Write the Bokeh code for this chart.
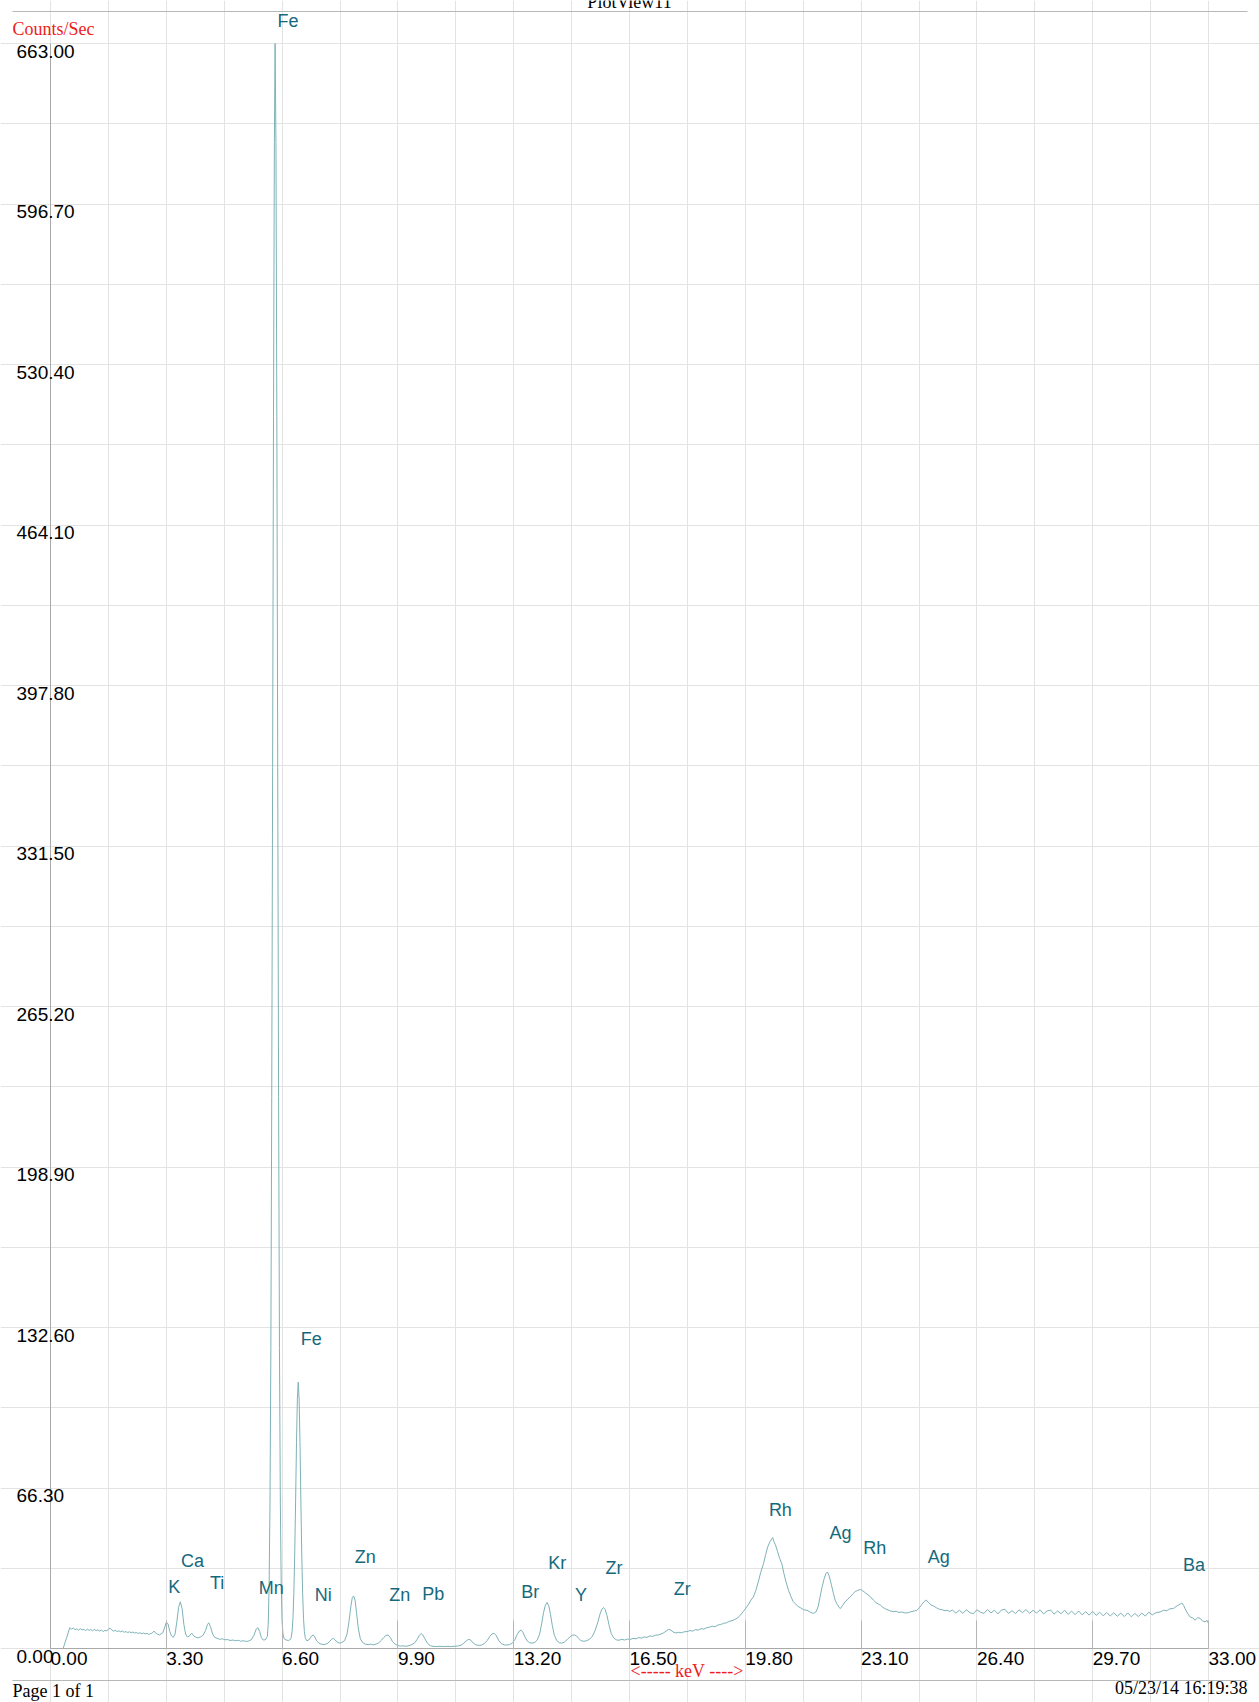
from bokeh.plotting import figure
from bokeh.models import (ColumnDataSource, LabelSet, Label, Arrow, FixedTicker,
                          PrintfTickFormatter, Range1d)
from bokeh.core.properties import value
from bokeh.embed import file_html
from bokeh.resources import INLINE

# ---------------- data ----------------
spectrum_kev = [
    0.00, 0.36, 0.46, 0.55, 0.60, 0.65, 0.70, 0.75, 0.80, 0.85,
    0.90, 0.95, 1.00, 1.05, 1.10, 1.15, 1.20, 1.25, 1.30, 1.35,
    1.40, 1.45, 1.50, 1.55, 1.60, 1.65, 1.70, 1.75, 1.80, 1.85,
    1.90, 1.95, 2.00, 2.05, 2.10, 2.15, 2.20, 2.25, 2.30, 2.35,
    2.40, 2.45, 2.50, 2.55, 2.60, 2.65, 2.70, 2.75, 2.80, 2.85,
    2.90, 2.95, 3.00, 3.05, 3.10, 3.15, 3.20, 3.25, 3.30, 3.35,
    3.40, 3.45, 3.50, 3.55, 3.60, 3.65, 3.70, 3.75, 3.80, 3.85,
    3.90, 3.95, 4.00, 4.03, 4.08, 4.15, 4.20, 4.28, 4.35, 4.42,
    4.47, 4.51, 4.56, 4.62, 4.68, 4.75, 4.82, 4.90, 4.97, 5.05,
    5.12, 5.20, 5.28, 5.35, 5.42, 5.50, 5.58, 5.65, 5.72, 5.80,
    5.86, 5.91, 5.96, 6.01, 6.06, 6.12, 6.18, 6.205, 6.23, 6.255,
    6.28, 6.305, 6.33, 6.355, 6.38, 6.40, 6.425, 6.45, 6.475, 6.50,
    6.525, 6.55, 6.575, 6.60, 6.625, 6.66, 6.72, 6.78, 6.84, 6.86,
    6.885, 6.91, 6.935, 6.96, 6.985, 7.01, 7.035, 7.06, 7.085, 7.11,
    7.135, 7.16, 7.185, 7.21, 7.235, 7.26, 7.30, 7.36, 7.41, 7.45,
    7.49, 7.53, 7.58, 7.65, 7.72, 7.80, 7.88, 7.95, 8.01, 8.06,
    8.11, 8.17, 8.24, 8.30, 8.38, 8.45, 8.51, 8.56, 8.60, 8.64,
    8.68, 8.72, 8.77, 8.83, 8.90, 8.97, 9.05, 9.12, 9.20, 9.28,
    9.36, 9.43, 9.50, 9.56, 9.62, 9.68, 9.74, 9.82, 9.90, 9.98,
    10.06, 10.14, 10.22, 10.30, 10.38, 10.45, 10.51, 10.56, 10.61, 10.67,
    10.74, 10.82, 10.90, 11.00, 11.10, 11.20, 11.30, 11.40, 11.50, 11.60,
    11.70, 11.78, 11.85, 11.92, 11.98, 12.05, 12.12, 12.20, 12.28, 12.36,
    12.44, 12.52, 12.58, 12.64, 12.70, 12.77, 12.85, 12.93, 13.00, 13.08,
    13.16, 13.24, 13.30, 13.36, 13.41, 13.46, 13.52, 13.58, 13.65, 13.72,
    13.80, 13.87, 13.94, 14.00, 14.05, 14.10, 14.15, 14.20, 14.25, 14.30,
    14.36, 14.43, 14.50, 14.57, 14.64, 14.72, 14.80, 14.87, 14.93, 14.99,
    15.05, 15.12, 15.20, 15.28, 15.36, 15.44, 15.52, 15.60, 15.66, 15.71,
    15.76, 15.81, 15.86, 15.92, 15.98, 16.05, 16.12, 16.20, 16.28, 16.36,
    16.44, 16.52, 16.60, 16.68, 16.76, 16.84, 16.92, 17.00, 17.08, 17.16,
    17.24, 17.32, 17.40, 17.48, 17.55, 17.62, 17.68, 17.75, 17.82, 17.90,
    17.98, 18.06, 18.14, 18.22, 18.30, 18.38, 18.46, 18.54, 18.62, 18.70,
    18.78, 18.86, 18.94, 19.02, 19.10, 19.18, 19.26, 19.34, 19.42, 19.50,
    19.58, 19.66, 19.74, 19.82, 19.90, 19.96, 20.03, 20.10, 20.17, 20.24,
    20.32, 20.38, 20.44, 20.50, 20.55, 20.58, 20.62, 20.66, 20.72, 20.78,
    20.84, 20.90, 20.96, 21.03, 21.10, 21.16, 21.22, 21.30, 21.38, 21.46,
    21.56, 21.65, 21.74, 21.82, 21.88, 21.93, 21.99, 22.05, 22.10, 22.14,
    22.19, 22.25, 22.31, 22.36, 22.42, 22.47, 22.51, 22.57, 22.64, 22.72,
    22.79, 22.86, 22.93, 23.00, 23.08, 23.15, 23.22, 23.30, 23.37, 23.45,
    23.52, 23.60, 23.65, 23.72, 23.80, 23.87, 23.94, 24.02, 24.10, 24.18,
    24.26, 24.34, 24.41, 24.48, 24.55, 24.62, 24.69, 24.76, 24.83, 24.90,
    24.96, 25.02, 25.09, 25.17, 25.25, 25.33, 25.41, 25.49, 25.55, 25.63,
    25.7, 25.8, 25.9, 26.0, 26.1, 26.2, 26.3, 26.4, 26.5, 26.6,
    26.7, 26.8, 26.9, 27.0, 27.1, 27.2, 27.3, 27.4, 27.5, 27.6,
    27.7, 27.8, 27.9, 28.0, 28.1, 28.2, 28.3, 28.4, 28.5, 28.6,
    28.7, 28.8, 28.9, 29.0, 29.1, 29.2, 29.3, 29.4, 29.5, 29.6,
    29.7, 29.8, 29.9, 30.0, 30.1, 30.2, 30.3, 30.4, 30.5, 30.6,
    30.7, 30.8, 30.9, 31.0, 31.1, 31.2, 31.3, 31.4, 31.5, 31.62,
    31.72, 31.81, 31.90, 32.00, 32.07, 32.14, 32.20, 32.24, 32.29, 32.33,
    32.40, 32.47, 32.55, 32.62, 32.69, 32.76, 32.83, 32.90, 32.96, 33.00,
]

spectrum_cps = [
    0.0, 0.0, 4.5, 8.6, 8.0, 8.4, 7.8, 8.1, 7.6, 8.2,
    7.7, 7.9, 7.4, 8.0, 7.5, 7.8, 7.3, 7.9, 7.4, 7.7,
    7.2, 7.6, 7.0, 7.5, 7.3, 7.9, 8.4, 7.6, 7.2, 7.5,
    7.0, 7.3, 6.9, 7.2, 6.7, 7.0, 6.6, 6.9, 6.5, 6.8,
    6.4, 6.6, 6.2, 6.5, 6.1, 6.4, 6.0, 6.3, 5.8, 6.1,
    6.4, 7.2, 6.3, 5.9, 5.6, 6.0, 6.5, 8.5, 10.8, 10.2,
    7.0, 5.2, 4.6, 6.0, 11.0, 17.0, 19.3, 16.5, 10.0, 6.0,
    4.8, 5.0, 6.0, 6.3, 5.2, 4.6, 4.4, 4.8, 5.5, 7.5,
    9.8, 10.6, 9.0, 6.0, 4.6, 4.2, 3.8, 4.0, 3.6, 3.7,
    3.3, 3.5, 3.2, 3.4, 3.0, 3.2, 2.9, 3.1, 3.6, 5.5,
    8.0, 8.6, 7.0, 4.5, 3.5, 3.6, 5.0, 10.0, 26.0, 60.0,
    124.0, 228.0, 364.0, 509.0, 622.0, 663.0, 622.0, 509.0, 364.0, 228.0,
    124.0, 60.0, 26.0, 11.0, 6.0, 4.0, 3.5, 3.3, 3.8, 4.5,
    7.0, 12.5, 23.0, 39.0, 61.0, 85.0, 103.0, 110.0, 103.0, 85.0,
    61.0, 39.0, 23.0, 12.5, 7.0, 4.5, 3.2, 3.5, 4.5, 5.3,
    5.6, 4.8, 3.2, 2.2, 1.8, 1.6, 2.0, 2.8, 3.8, 4.2,
    3.6, 2.6, 2.2, 2.5, 3.2, 6.0, 11.5, 17.5, 21.0, 21.7,
    20.0, 15.0, 8.5, 4.0, 2.4, 1.8, 1.6, 1.8, 1.5, 1.8,
    2.4, 3.4, 4.6, 5.4, 5.6, 4.6, 3.0, 1.8, 1.2, 1.0,
    1.1, 0.9, 1.2, 1.6, 2.4, 3.8, 5.4, 6.2, 5.6, 4.0,
    2.2, 1.2, 0.9, 0.8, 0.9, 0.8, 0.9, 0.8, 0.9, 1.0,
    1.4, 2.2, 3.2, 3.8, 3.4, 2.2, 1.5, 1.3, 1.4, 2.0,
    3.2, 5.0, 6.0, 6.3, 5.4, 3.4, 2.0, 1.5, 1.4, 1.6,
    2.2, 3.8, 5.8, 7.2, 7.6, 6.8, 4.8, 3.2, 2.4, 2.2,
    2.5, 3.5, 6.0, 10.5, 14.8, 17.8, 19.0, 17.6, 14.0, 9.5,
    5.4, 3.2, 2.4, 2.2, 2.6, 3.6, 4.8, 5.5, 5.6, 5.2,
    4.2, 3.2, 3.0, 3.2, 3.8, 5.0, 7.4, 11.0, 14.2, 16.2,
    16.9, 16.0, 13.5, 9.5, 6.2, 4.4, 3.6, 3.4, 3.8, 3.5,
    3.9, 3.7, 4.2, 4.0, 4.5, 4.3, 4.8, 4.6, 5.2, 5.0,
    5.5, 5.6, 6.0, 6.5, 7.3, 7.9, 7.6, 6.8, 6.4, 6.7,
    6.5, 6.9, 7.0, 7.4, 7.2, 7.8, 7.6, 8.2, 8.0, 8.6,
    8.8, 9.2, 9.0, 9.7, 9.9, 10.4, 10.6, 11.2, 11.5, 12.0,
    12.6, 13.8, 15.2, 16.8, 18.4, 20.0, 21.3, 24.0, 27.5, 31.5,
    35.1, 38.8, 42.0, 44.0, 45.2, 45.8, 44.0, 42.8, 40.0, 37.2,
    35.1, 31.0, 27.5, 24.1, 21.5, 19.5, 18.6, 17.4, 16.8, 16.0,
    15.8, 15.0, 14.5, 15.2, 17.5, 21.3, 25.5, 29.0, 31.0, 31.6,
    30.0, 26.5, 22.8, 20.0, 18.2, 17.0, 16.5, 17.8, 19.2, 20.4,
    21.3, 22.5, 23.5, 24.0, 24.4, 23.8, 23.0, 22.2, 21.3, 20.0,
    19.0, 18.3, 17.9, 17.0, 16.3, 15.9, 15.5, 15.2, 15.4, 14.9,
    15.1, 14.7, 14.7, 15.0, 15.3, 15.5, 15.8, 16.8, 18.2, 19.4,
    20.0, 19.0, 18.0, 17.5, 16.8, 16.2, 16.0, 15.6, 15.8, 15.3,
    15.9, 14.6, 15.8, 14.5, 16.0, 14.8, 14.4, 16.0, 15.0, 14.5,
    16.1, 14.7, 15.8, 14.3, 15.9, 16.2, 14.5, 15.6, 14.4, 16.0,
    14.8, 16.1, 14.5, 15.8, 14.6, 16.0, 14.3, 15.5, 15.9, 14.2,
    15.5, 14.4, 15.8, 14.1, 15.4, 14.0, 15.5, 13.9, 15.2, 13.8,
    15.3, 13.7, 15.0, 13.5, 14.9, 13.4, 14.8, 13.3, 14.6, 13.2,
    14.7, 13.1, 14.5, 13.2, 14.6, 13.4, 15.0, 13.9, 14.8, 15.1,
    15.8, 15.6, 16.4, 16.5, 17.3, 17.9, 18.4, 18.8, 17.8, 16.5,
    14.6, 13.1, 12.6, 11.7, 12.8, 12.4, 11.4, 11.0, 11.6, 10.3,
]
assert len(spectrum_kev) == len(spectrum_cps)

x_ticks = [0.0, 3.3, 6.6, 9.9, 13.2, 16.5, 19.8, 23.1, 26.4, 29.7, 33.0]
x_minor_ticks = [1.65, 4.95, 8.25, 11.55, 14.85, 18.15, 21.45, 24.75, 28.05, 31.35]
y_ticks = [0.0, 66.3, 132.6, 198.9, 265.2, 331.5, 397.8, 464.1, 530.4, 596.7, 663.0]
y_tick_labels = ["0.00", "66.30", "132.60", "198.90", "265.20", "331.50",
                 "397.80", "464.10", "530.40", "596.70", "663.00"]
y_minor_ticks = [33.15, 99.45, 165.75, 232.05, 298.35, 364.65, 430.95, 497.25, 563.55, 629.85]

peak_label_text = ["Fe", "Fe", "K", "Ca", "Ti", "Mn", "Ni", "Zn", "Zn", "Pb",
                   "Br", "Kr", "Y", "Zr", "Zr", "Rh", "Ag", "Rh", "Ag", "Ba"]
peak_label_kev = [6.77, 7.43, 3.53, 4.05, 4.75, 6.29, 7.77, 8.97, 9.95, 10.91,
                  13.67, 14.44, 15.12, 16.06, 18.00, 20.80, 22.51, 23.49, 25.31, 32.59]
peak_label_cps = [672.5, 127.8, 25.3, 36.1, 27.0, 24.9, 22.0, 37.7, 22.0, 22.4,
                  23.5, 35.2, 22.0, 33.2, 24.5, 57.1, 47.6, 41.4, 37.7, 34.4]

page_title = "PlotView11"
y_title = "Counts/Sec"
x_title = "<----- keV ---->"
footer_left = "Page 1 of 1"
footer_right = "05/23/14 16:19:38"

# ---------------- layout geometry (page pixels) ----------------
W, H = 1259, 1702
FL, FR, FT, FB = 50, 1208, 43, 1648   # edges of the spectrum area
X_END, Y_END = x_ticks[-1], y_ticks[-1]
TEXT_SHIFT = 6.5                      # Label baseline correction (px)


def to_data(px, py):
    """page pixel -> data coordinates (the frame covers the whole page)"""
    return ((px - FL) / (FR - FL) * X_END, (FB - py) / (FB - FT) * Y_END)


x_lo, y_lo = to_data(0, H)
x_hi, y_hi = to_data(W, 0)

SANS = "Liberation Sans"
SERIF = "Liberation Serif"
TEAL = "#16697c"
LINE = "#7db2b8"
GRID = "#e3e3e3"
AXIS = "#a9a9a9"

p = figure(width=W, height=H, x_range=Range1d(x_lo, x_hi), y_range=Range1d(y_lo, y_hi),
           output_backend="svg", toolbar_location=None,
           min_border_left=0, min_border_right=0, min_border_top=0, min_border_bottom=0)
p.background_fill_color = "white"
p.border_fill_color = "white"
p.outline_line_color = None

p.line(spectrum_kev, spectrum_cps, line_color=LINE, line_width=1)

# x axis, drawn at counts = 0
p.xaxis.fixed_location = 0
p.xaxis.bounds = (0, X_END)
p.xaxis.ticker = FixedTicker(ticks=x_ticks, minor_ticks=x_minor_ticks)
p.xaxis.formatter = PrintfTickFormatter(format="%.2f")
p.xaxis.major_label_orientation = -1e-6     # left-aligned labels
p.xaxis.major_label_standoff = 10
p.xaxis.major_label_text_font = SANS
p.xaxis.major_label_text_font_size = "19px"
p.xaxis.major_label_text_color = "black"
p.xaxis.major_tick_in = 28
p.xaxis.major_tick_out = 0
p.xaxis.minor_tick_in = 0
p.xaxis.minor_tick_out = 0
p.xaxis.major_tick_line_color = "#b5b5b5"
p.xaxis.axis_line_color = AXIS
p.xgrid.ticker = FixedTicker(ticks=x_ticks, minor_ticks=x_minor_ticks)
p.xgrid.bounds = (0, Y_END)
p.xgrid.grid_line_color = GRID
p.xgrid.minor_grid_line_color = GRID

# y axis, drawn at keV = 0 (its labels are set left-aligned below)
p.yaxis.fixed_location = 0
p.yaxis.bounds = (0, Y_END)
p.yaxis.ticker = FixedTicker(ticks=y_ticks, minor_ticks=y_minor_ticks)
p.yaxis.major_label_overrides = {t: "" for t in y_ticks}
p.yaxis.major_label_standoff = 0
p.yaxis.major_tick_in = 0
p.yaxis.major_tick_out = 0
p.yaxis.minor_tick_in = 0
p.yaxis.minor_tick_out = 0
p.yaxis.axis_line_color = AXIS
p.ygrid.ticker = FixedTicker(ticks=y_ticks, minor_ticks=y_minor_ticks)
p.ygrid.bounds = (0, X_END)
p.ygrid.grid_line_color = GRID
p.ygrid.minor_grid_line_color = GRID

ylab_src = ColumnDataSource(dict(x=[0.0] * len(y_ticks), y=y_ticks, text=y_tick_labels))
p.add_layout(LabelSet(x="x", y="y", text="text", source=ylab_src,
                      x_offset=16 - FL, y_offset=-1,
                      text_align="left", text_baseline="top",
                      text_font=value(SANS), text_font_size=value("19px"),
                      text_color="black"))

# element labels
pk_src = ColumnDataSource(dict(x=peak_label_kev, y=peak_label_cps, text=peak_label_text))
p.add_layout(LabelSet(x="x", y="y", text="text", source=pk_src,
                      text_align="center", text_baseline="middle",
                      text_font=value(SANS), text_font_size=value("18px"),
                      text_color=TEAL))


# page header / footer texts
def add_text(txt, px, py, font, color, align="left", size="18px"):
    x, y = to_data(px, py - TEXT_SHIFT)
    p.add_layout(Label(x=x, y=y, text=txt, text_font=font, text_font_size=size,
                       text_color=color, text_align=align, text_baseline="alphabetic"))


add_text(page_title, 629, 8, SERIF, "black", align="center")
add_text(y_title, 12, 35, SERIF, "#ee1c1c")
add_text(x_title, 630, 1677, SERIF, "#ee1c1c")
add_text(footer_left, 12, 1697, SERIF, "black")
add_text(footer_right, 1247, 1694, SERIF, "black", align="right")

# horizontal page rules
for ry in (11, 1680):
    x0, y0 = to_data(12, ry)
    x1, _ = to_data(1247, ry)
    p.add_layout(Arrow(end=None, x_start=x0, y_start=y0, x_end=x1, y_end=y0,
                       line_color="#b8b8b8", line_width=1))

open("out.html", "w").write(file_html(p, INLINE))
